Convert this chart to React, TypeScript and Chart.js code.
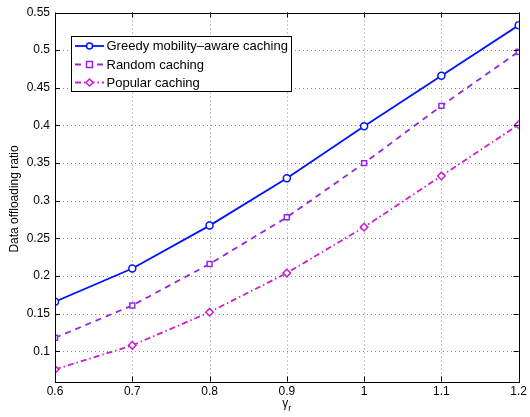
import React, { useEffect, useRef } from "react";
import { Chart, registerables } from "chart.js";

Chart.register(...registerables);

const xValues = [0.6, 0.7, 0.8, 0.9, 1.0, 1.1, 1.2];
const greedy = [0.166, 0.21, 0.267, 0.33, 0.399, 0.466, 0.533];
const randomC = [0.118, 0.161, 0.216, 0.278, 0.35, 0.426, 0.498];
const popular = [0.076, 0.108, 0.152, 0.204, 0.265, 0.333, 0.401];
const seriesNames = ["Greedy mobility\u2013aware caching", "Random caching", "Popular caching"];
const yTicks = [0.1, 0.15, 0.2, 0.25, 0.3, 0.35, 0.4, 0.45, 0.5, 0.55];
const xTicks = [0.6, 0.7, 0.8, 0.9, 1.0, 1.1, 1.2];

const FONT = "Arial, 'Liberation Sans', Helvetica, sans-serif";

const fmt = (v: number) => String(Number(v.toFixed(2)));

export default function App() {
  const ref = useRef<HTMLCanvasElement | null>(null);

  useEffect(() => {
    document.body.style.margin = "0";
    const canvas = ref.current;
    if (!canvas) return;

    const gridPlugin = {
      id: "matlabGrid",
      beforeDatasetsDraw(chart: any) {
        const { ctx, chartArea } = chart;
        const { left, right, top, bottom } = chartArea;
        const xs = chart.scales.x;
        const ys = chart.scales.y;
        ctx.save();
        ctx.strokeStyle = "#8a8a8a";
        ctx.lineWidth = 1;
        ctx.setLineDash([1, 3]);
        ctx.beginPath();
        xTicks.forEach((t) => {
          const px = Math.round(xs.getPixelForValue(t)) + 0.5;
          ctx.moveTo(px, bottom);
          ctx.lineTo(px, top);
        });
        yTicks.forEach((t) => {
          const py = Math.round(ys.getPixelForValue(t)) + 0.5;
          ctx.moveTo(left, py);
          ctx.lineTo(right, py);
        });
        ctx.stroke();
        ctx.restore();
      },
    };

    const boxPlugin = {
      id: "matlabBox",
      afterDraw(chart: any) {
        const { ctx, chartArea } = chart;
        const { left, right, top, bottom } = chartArea;
        const xs = chart.scales.x;
        const ys = chart.scales.y;
        ctx.save();
        ctx.strokeStyle = "#000";
        ctx.lineWidth = 1;
        ctx.setLineDash([]);
        ctx.beginPath();
        const tl = 5;
        xTicks.forEach((t) => {
          const px = Math.round(xs.getPixelForValue(t)) + 0.5;
          ctx.moveTo(px, bottom);
          ctx.lineTo(px, bottom - tl);
          ctx.moveTo(px, top);
          ctx.lineTo(px, top + tl);
        });
        yTicks.forEach((t) => {
          const py = Math.round(ys.getPixelForValue(t)) + 0.5;
          ctx.moveTo(left, py);
          ctx.lineTo(left + tl, py);
          ctx.moveTo(right, py);
          ctx.lineTo(right - tl, py);
        });
        ctx.stroke();
        ctx.strokeRect(Math.round(left) + 0.5, Math.round(top) + 0.5, Math.round(right - left), Math.round(bottom - top));

        // legend
        const lx = 71.5, ly = 36.5, lw = 220, lh = 55;
        ctx.fillStyle = "#fff";
        ctx.fillRect(lx, ly, lw, lh);
        ctx.strokeRect(lx, ly, lw, lh);
        const rows = [46, 64.5, 82.5];
        chart.data.datasets.forEach((ds: any, i: number) => {
          const y = rows[i];
          ctx.save();
          ctx.strokeStyle = ds.borderColor;
          ctx.lineWidth = ds.borderWidth;
          ctx.setLineDash(ds.borderDash || []);
          ctx.beginPath();
          ctx.moveTo(75, y);
          ctx.lineTo(104, y);
          ctx.stroke();
          ctx.setLineDash([]);
          ctx.lineWidth = 1.5;
          ctx.fillStyle = "#fff";
          ctx.beginPath();
          const cx = 89.5;
          if (ds.pointStyle === "circle") {
            ctx.arc(cx, y, 3, 0, Math.PI * 2);
          } else if (ds.pointStyle === "rect") {
            ctx.rect(cx - 3, y - 3, 6, 6);
          } else {
            ctx.moveTo(cx, y - 3.5);
            ctx.lineTo(cx + 3.5, y);
            ctx.lineTo(cx, y + 3.5);
            ctx.lineTo(cx - 3.5, y);
            ctx.closePath();
          }
          ctx.fill();
          ctx.stroke();
          ctx.restore();
          ctx.fillStyle = "#000";
          ctx.font = `13px ${FONT}`;
          ctx.textBaseline = "middle";
          ctx.textAlign = "left";
          ctx.fillText(seriesNames[i], 106.5, y + 0.5);
        });

        // x title with subscript
        const midX = (left + right) / 2;
        ctx.fillStyle = "#000";
        ctx.textBaseline = "alphabetic";
        ctx.textAlign = "left";
        ctx.font = `12px ${FONT}`;
        const gw = ctx.measureText("\u03b3").width;
        ctx.font = `9px ${FONT}`;
        const rw = ctx.measureText("r").width;
        const start = midX - (gw + rw) / 2;
        ctx.font = `12px ${FONT}`;
        ctx.fillText("\u03b3", start, 407);
        ctx.font = `9px ${FONT}`;
        ctx.fillText("r", start + gw, 411);

        // y title
        ctx.save();
        ctx.translate(15, (top + bottom) / 2 + 2);
        ctx.rotate(-Math.PI / 2);
        ctx.font = `12px ${FONT}`;
        ctx.textAlign = "center";
        ctx.textBaseline = "middle";
        ctx.fillText("Data offloading ratio", 0, 0);
        ctx.restore();
        ctx.restore();
      },
    };

    const toPts = (arr: number[]) => arr.map((v, i) => ({ x: xValues[i], y: v }));

    const chart = new Chart(canvas, {
      type: "line",
      data: {
        datasets: [
          {
            label: seriesNames[0],
            data: toPts(greedy),
            borderColor: "#0014ff",
            backgroundColor: "#fff",
            borderWidth: 1.8,
            pointStyle: "circle",
            pointRadius: 3.5,
            pointBorderWidth: 1.5,
            tension: 0,
          },
          {
            label: seriesNames[1],
            data: toPts(randomC),
            borderColor: "#9424e8",
            backgroundColor: "#fff",
            borderWidth: 1.8,
            borderDash: [6, 5],
            pointStyle: "rect",
            pointRadius: 3.5,
            pointBorderWidth: 1.5,
            tension: 0,
          },
          {
            label: seriesNames[2],
            data: toPts(popular),
            borderColor: "#cc1ecc",
            backgroundColor: "#fff",
            borderWidth: 1.8,
            borderDash: [6, 3, 1.5, 3],
            pointStyle: "rectRot",
            pointRadius: 3.8,
            pointBorderWidth: 1.5,
            tension: 0,
          },
        ],
      },
      options: {
        animation: false,
        responsive: false,
        events: [],
        layout: { padding: { left: 0, right: 9, top: 12.5, bottom: 0 } },
        plugins: {
          legend: { display: false },
          tooltip: { enabled: false },
        },
        scales: {
          x: {
            type: "linear",
            min: 0.6,
            max: 1.2,
            afterBuildTicks: (s: any) => {
              s.ticks = xTicks.map((v) => ({ value: v }));
            },
            afterFit: (s: any) => {
              s.height = 35.5;
            },
            ticks: {
              color: "#000",
              font: { family: FONT, size: 12 },
              padding: 3,
              maxRotation: 0,
              callback: (v: any) => fmt(Number(v)),
            },
            grid: { display: false, drawTicks: false, tickLength: 0 },
            border: { display: false },
          },
          y: {
            type: "linear",
            min: 0.06,
            max: 0.55,
            afterBuildTicks: (s: any) => {
              s.ticks = yTicks.map((v) => ({ value: v }));
            },
            afterFit: (s: any) => {
              s.width = 55;
            },
            ticks: {
              color: "#000",
              font: { family: FONT, size: 12 },
              padding: 5,
              callback: (v: any) => fmt(Number(v)),
            },
            grid: { display: false, drawTicks: false, tickLength: 0 },
            border: { display: false },
          },
        },
      },
      plugins: [gridPlugin, boxPlugin],
    } as any);

    return () => chart.destroy();
  }, []);

  return (
    <div style={{ position: "absolute", left: 0, top: 0, width: 530, height: 417, background: "#fff" }}>
      <canvas ref={ref} width={530} height={417} style={{ width: 530, height: 417 }} />
    </div>
  );
}
